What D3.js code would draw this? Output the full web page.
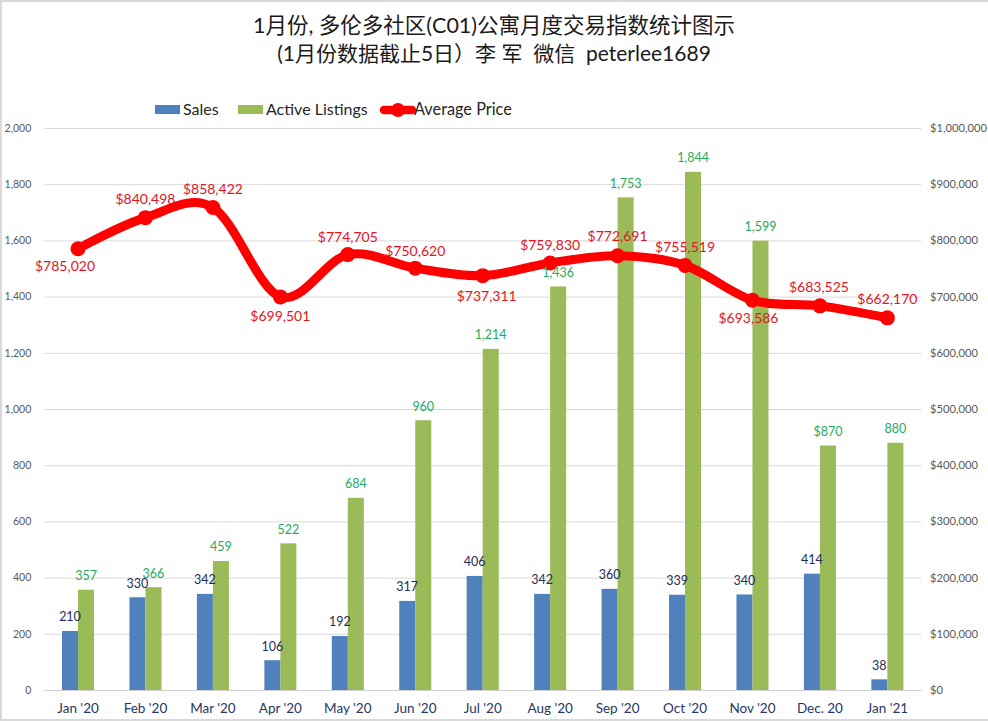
<!DOCTYPE html>
<html><head><meta charset="utf-8">
<script src="https://cdn.jsdelivr.net/npm/d3@7/dist/d3.min.js"></script>
<style>
html,body{margin:0;padding:0;background:#fff}
svg{display:block}
text{font-family:Lato,"Noto Sans CJK SC",sans-serif;white-space:pre}
</style></head><body>
<svg id="c" width="988" height="721"></svg>
<script>
const months=["Jan '20","Feb '20","Mar '20","Apr '20","May '20","Jun '20","Jul '20","Aug '20","Sep '20","Oct '20","Nov '20","Dec. 20","Jan '21"];
const sales=[210,330,342,106,192,317,406,342,360,339,340,414,38];
const listings=[357,366,459,522,684,960,1214,1436,1753,1844,1599,870,880];
const listingLabels=["357","366","459","522","684","960","1,214","1,436","1,753","1,844","1,599","$870","880"];
const prices=[785020,840498,858422,699501,774705,750620,737311,759830,772691,755519,693586,683525,662170];
const leftTicks=[0,200,400,600,800,1000,1200,1400,1600,1800,2000];
const rightTicks=[0,100000,200000,300000,400000,500000,600000,700000,800000,900000,1000000];
const priceLabelDx=[-13,0,0,0,0,0,4,0,0,0,-4,-1,0];
const priceLabelDy=[17,-19,-18,19,-18,-17,20,-18,-20,-18,18,-19,-19];
const titleLines=["1月份, 多伦多社区(C01)公寓月度交易指数统计图示","(1月份数据截止5日）李 军  微信  peterlee1689"];

const svg=d3.select("#c");
const L=44.3,R=921.1,T=128,B=690;
const x=d3.scaleBand().domain(months).range([L,R]).paddingInner(0.525).paddingOuter(0.2625);
const yL=d3.scaleLinear().domain([0,2000]).range([B,T]);
const yR=d3.scaleLinear().domain([0,1000000]).range([B,T]);
const bw=x.bandwidth()/2;
const cx=m=>x(m)+x.bandwidth()/2;

// frame
svg.append("path").attr("d","M1,721V1H988").attr("fill","none").attr("stroke","#d9d9d9").attr("stroke-width",2);
svg.append("path").attr("d","M0,720H988").attr("stroke","#d9d9d9").attr("stroke-width",2);

// title
svg.append("g").selectAll("text").data(titleLines).join("text")
  .attr("x",494).attr("y",(d,i)=>33+i*28).attr("text-anchor","middle")
  .attr("font-size",(d,i)=>i?21:21.5).attr("fill","#1a1a1a").text(d=>d);

// axes
const axL=svg.append("g").attr("transform",`translate(${L},0)`)
  .call(d3.axisLeft(yL).tickValues(leftTicks).tickSize(-(R-L)).tickPadding(13).tickFormat(d3.format(",")));
const axR=svg.append("g").attr("transform",`translate(${R},0)`)
  .call(d3.axisRight(yR).tickValues(rightTicks).tickSize(0).tickPadding(9).tickFormat(d3.format("$,")));
[axL,axR].forEach(a=>{a.select(".domain").remove();
  a.selectAll("text").attr("fill","#595959").style("font-family","Lato");});
axL.selectAll("text").attr("font-size",10.5);
axR.selectAll("text").attr("font-size",11.2);
axL.selectAll("line").attr("stroke","#d9d9d9");
const axX=svg.append("g").attr("transform",`translate(0,${B})`)
  .call(d3.axisBottom(x).tickSize(0).tickPadding(13));
axX.select(".domain").attr("stroke","#d0d0d0");
axX.selectAll("text").attr("font-size",13.5).attr("fill","#1f3864").style("font-family","Lato");

// bars
svg.append("g").selectAll("rect").data(sales).join("rect")
  .attr("x",(d,i)=>x(months[i])).attr("width",bw)
  .attr("y",d=>yL(d)).attr("height",d=>B-yL(d)).attr("fill","#4f81bd");
svg.append("g").selectAll("rect").data(listings).join("rect")
  .attr("x",(d,i)=>x(months[i])+bw).attr("width",bw)
  .attr("y",d=>yL(d)).attr("height",d=>B-yL(d)).attr("fill","#9bbb59");

// price line
const line=d3.line().x((d,i)=>cx(months[i])).y(d=>yR(d)).curve(d3.curveCatmullRom.alpha(0));
svg.append("path").attr("d",line(prices)).attr("fill","none").attr("stroke","#ff0000")
  .attr("stroke-width",9).attr("stroke-linecap","round");
svg.append("g").selectAll("circle").data(prices).join("circle")
  .attr("cx",(d,i)=>cx(months[i])).attr("cy",d=>yR(d)).attr("r",7.5).attr("fill","#ff0000");

// data labels
svg.append("g").selectAll("text").data(sales).join("text")
  .attr("x",(d,i)=>x(months[i])+bw/2).attr("y",d=>yL(d)-14).attr("dy",".35em")
  .attr("text-anchor","middle").attr("font-size",12.5).attr("fill","#1f2d5a").text(d=>d3.format(",")(d));
svg.append("g").selectAll("text").data(listings).join("text")
  .attr("x",(d,i)=>x(months[i])+bw*1.5).attr("y",d=>yL(d)-14).attr("dy",".35em")
  .attr("text-anchor","middle").attr("font-size",12.5).attr("fill","#1faa5f").text((d,i)=>listingLabels[i]);
svg.append("g").selectAll("text").data(prices).join("text")
  .attr("x",(d,i)=>cx(months[i])+priceLabelDx[i]).attr("y",(d,i)=>yR(d)+priceLabelDy[i]).attr("dy",".35em")
  .attr("text-anchor","middle").attr("font-size",14).attr("fill","#e3141f").text(d=>d3.format("$,")(d));

// legend
const lg=svg.append("g");
const legendItems=[["Sales",155,183,"#4f81bd"],["Active Listings",238,266,"#9bbb59"]];
legendItems.forEach(([t,rx,tx,c])=>{
  lg.append("rect").attr("x",rx).attr("y",105).attr("width",25).attr("height",9).attr("fill",c);
  lg.append("text").attr("x",tx).attr("y",109.5).attr("dy",".35em").attr("font-size",16).attr("fill","#262626").text(t);
});
lg.append("line").attr("x1",384).attr("x2",412).attr("y1",110).attr("y2",110).attr("stroke","#ff0000").attr("stroke-width",8.5).attr("stroke-linecap","round");
lg.append("circle").attr("cx",398).attr("cy",110).attr("r",7).attr("fill","#ff0000");
lg.append("text").attr("x",414).attr("y",109.5).attr("dy",".35em").attr("font-size",16.3).attr("fill","#262626").text("Average Price");
</script></body></html>
